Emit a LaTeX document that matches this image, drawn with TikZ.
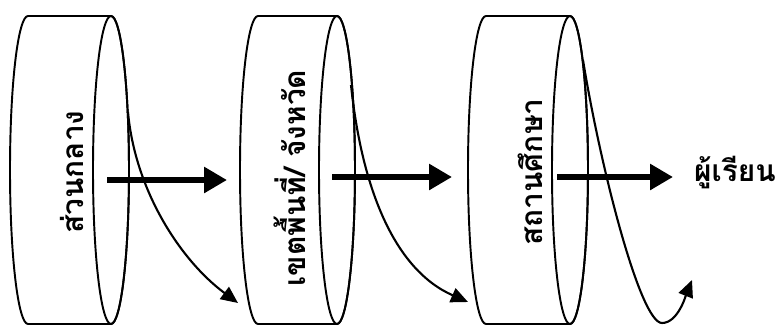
\documentclass[tikz,border=0pt]{standalone}
\usepackage{fontspec}
\newfontfamily\thaifont[Script=Thai]{Loma}
\usetikzlibrary{arrows.meta}

\begin{document}
\begin{tikzpicture}[x=0.02cm, y=0.02cm,
  drum/.style={draw, line width=1.1pt, fill=white},
  lbl/.style={font=\thaifont\bfseries\fontsize{17}{20}\selectfont, inner sep=1pt},
  flow/.style={line width=3.4pt, -{Triangle[length=0.46cm, width=0.5cm]}},
  swirl/.style={line width=1.2pt, -{Triangle[length=0.34cm, width=0.3cm]}}]
\useasboundingbox (0,0) rectangle (779,326);
% three drums
\draw[drum] (28,2) arc[start angle=270, end angle=90, x radius=18, y radius=154] -- (111,310) arc[start angle=90, end angle=-90, x radius=18, y radius=154] -- cycle;
\draw[line width=1.1pt] (111,156) ellipse[x radius=18, y radius=154];
\draw[drum] (258,2) arc[start angle=270, end angle=90, x radius=18, y radius=154] -- (337,310) arc[start angle=90, end angle=-90, x radius=18, y radius=154] -- cycle;
\draw[line width=1.1pt] (337,156) ellipse[x radius=18, y radius=154];
\draw[drum] (486,2) arc[start angle=270, end angle=90, x radius=18, y radius=154] -- (570,310) arc[start angle=90, end angle=-90, x radius=18, y radius=154] -- cycle;
\draw[line width=1.1pt] (570,156) ellipse[x radius=18, y radius=154];
% labels
\node[lbl, rotate=90] (central) at (72,154) {ส่วนกลาง};
\node[lbl, rotate=90] (area) at (290,148) {เขตพื้นที่/ จังหวัด};
\node[lbl, rotate=90] (school) at (530,154) {สถานศึกษา};
\node[lbl] (learner) at (735,153) {ผู้เรียน};
% arrow ends
\coordinate (f1) at (107,146); \coordinate (t1) at (227,146);
\coordinate (f2) at (332,149); \coordinate (t2) at (452,149);
\coordinate (f3) at (557,149); \coordinate (t3) at (673,149);
\coordinate (s1) at (128,214); \coordinate (e1) at (238,23);
\coordinate (s2) at (351,241); \coordinate (e2) at (468,24);
\coordinate (s3) at (583,266); \coordinate (m3) at (662,3); \coordinate (e3) at (692,46);
% spirals
\draw[swirl] (s1) .. controls (135,136) and (180,66) .. (e1);
\draw[swirl] (s2) .. controls (362,136) and (395,56) .. (e2);
\draw[swirl] (s3) .. controls (600,161) and (640,3) .. (m3) .. controls (678,3) and (686,31) .. (e3);
% flow
\draw[flow] (f1) -- (t1);
\draw[flow] (f2) -- (t2);
\draw[flow] (f3) -- (t3);
\end{tikzpicture}
\end{document}
